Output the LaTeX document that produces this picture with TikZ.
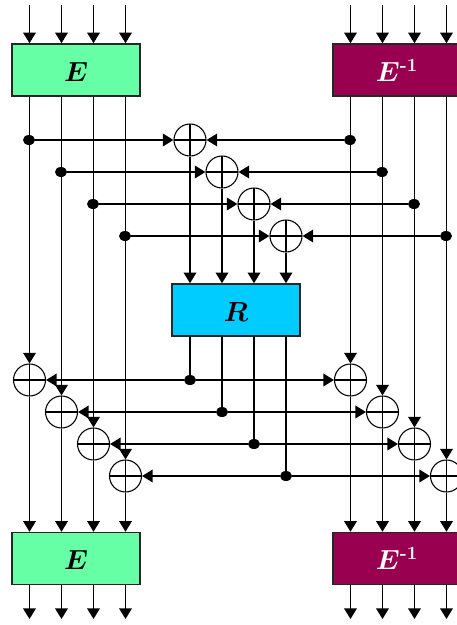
\documentclass[tikz,border=0pt]{standalone}
\usepackage{amsmath}
\usepackage{amssymb}
\usepackage{tikz}
\usetikzlibrary{arrows.meta}
\usetikzlibrary{shapes.geometric}
\definecolor{boxgreen}{RGB}{102,255,166}
\definecolor{boxwine}{RGB}{153,0,80}
\definecolor{boxcyan}{RGB}{0,204,255}
\tikzset{
  blockbox/.style={draw=black!85,line width=1.2pt,minimum width=96pt,minimum height=39pt,inner sep=0pt,text height=17pt,text depth=0pt,font=\fontsize{20}{24}\selectfont\boldmath},
  xorsum/.style={circle,draw,line width=0.8pt,minimum size=24pt,inner sep=0pt,path picture={\draw[line width=0.8pt] (path picture bounding box.north)--(path picture bounding box.south) (path picture bounding box.west)--(path picture bounding box.east);}},
  joint/.style={ellipse,fill=black,minimum width=9pt,minimum height=7.5pt,inner sep=0pt},
  wire/.style={line width=1.2pt},
  flow/.style={line width=1.2pt,-{Triangle[width=9.5pt,length=8pt]}}
}
\begin{document}
\begin{tikzpicture}[x=0.75pt,y=-0.75pt]
\clip (0,0) rectangle (457,625);
% blocks
\node[blockbox,fill=boxgreen] (etop) at (76,70) {$E$};
\node[blockbox,fill=boxwine,text=white] (itop) at (397,70) {$E^{\textbf{-1}}$};
\node[blockbox,fill=boxcyan] (rmid) at (236,310) {$R$};
\node[blockbox,fill=boxgreen] (ebot) at (76,558.5) {$E$};
\node[blockbox,fill=boxwine,text=white] (ibot) at (397,558.5) {$E^{\textbf{-1}}$};
% free ends
\coordinate (ina) at (29.5,5);
\coordinate (inb) at (61.5,5);
\coordinate (inc) at (93.5,5);
\coordinate (ind) at (125.5,5);
\coordinate (ine) at (350.5,5);
\coordinate (inf) at (382.5,5);
\coordinate (ing) at (414.5,5);
\coordinate (inh) at (446.5,5);
\coordinate (outa) at (29.5,619);
\coordinate (outb) at (61.5,619);
\coordinate (outc) at (93.5,619);
\coordinate (outd) at (125.5,619);
\coordinate (oute) at (350.5,619);
\coordinate (outf) at (382.5,619);
\coordinate (outg) at (414.5,619);
\coordinate (outh) at (446.5,619);
% upper sums and joints
\node[xorsum] (ua) at (190,140) {};
\node[xorsum] (ub) at (222,172) {};
\node[xorsum] (uc) at (254,204) {};
\node[xorsum] (ud) at (286,236) {};
\node[joint] (la) at (29,140) {};
\node[joint] (lb) at (61,172) {};
\node[joint] (lc) at (93,204) {};
\node[joint] (ld) at (125,236) {};
\node[joint] (ra) at (350,140) {};
\node[joint] (rb) at (382,172) {};
\node[joint] (rc) at (414,204) {};
\node[joint] (rd) at (446,236) {};
% lower sums and joints
\node[xorsum] (xa) at (29.5,380) {};
\node[xorsum] (xb) at (61.5,412) {};
\node[xorsum] (xc) at (93.5,444) {};
\node[xorsum] (xd) at (125.5,476) {};
\node[xorsum] (ya) at (350.5,380) {};
\node[xorsum] (yb) at (382.5,412) {};
\node[xorsum] (yc) at (414.5,444) {};
\node[xorsum] (yd) at (446.5,476) {};
\node[joint] (ma) at (190,380) {};
\node[joint] (mb) at (222,412) {};
\node[joint] (mc) at (254,444) {};
\node[joint] (md) at (286,476) {};
% inputs
\draw[flow] (ina) -- (ina |- etop.north);
\draw[flow] (inb) -- (inb |- etop.north);
\draw[flow] (inc) -- (inc |- etop.north);
\draw[flow] (ind) -- (ind |- etop.north);
\draw[flow] (ine) -- (ine |- itop.north);
\draw[flow] (inf) -- (inf |- itop.north);
\draw[flow] (ing) -- (ing |- itop.north);
\draw[flow] (inh) -- (inh |- itop.north);
% columns down to the lower sums
\draw[flow] (xa |- etop.south) -- (xa.north);
\draw[flow] (xb |- etop.south) -- (xb.north);
\draw[flow] (xc |- etop.south) -- (xc.north);
\draw[flow] (xd |- etop.south) -- (xd.north);
\draw[flow] (ya |- itop.south) -- (ya.north);
\draw[flow] (yb |- itop.south) -- (yb.north);
\draw[flow] (yc |- itop.south) -- (yc.north);
\draw[flow] (yd |- itop.south) -- (yd.north);
% columns into the bottom blocks
\draw[flow] (xa.south) -- (xa |- ebot.north);
\draw[flow] (xb.south) -- (xb |- ebot.north);
\draw[flow] (xc.south) -- (xc |- ebot.north);
\draw[flow] (xd.south) -- (xd |- ebot.north);
\draw[flow] (ya.south) -- (ya |- ibot.north);
\draw[flow] (yb.south) -- (yb |- ibot.north);
\draw[flow] (yc.south) -- (yc |- ibot.north);
\draw[flow] (yd.south) -- (yd |- ibot.north);
% outputs
\draw[flow] (outa |- ebot.south) -- (outa);
\draw[flow] (outb |- ebot.south) -- (outb);
\draw[flow] (outc |- ebot.south) -- (outc);
\draw[flow] (outd |- ebot.south) -- (outd);
\draw[flow] (oute |- ibot.south) -- (oute);
\draw[flow] (outf |- ibot.south) -- (outf);
\draw[flow] (outg |- ibot.south) -- (outg);
\draw[flow] (outh |- ibot.south) -- (outh);
% upper rows
\draw[flow] (la) -- (ua.west);
\draw[flow] (lb) -- (ub.west);
\draw[flow] (lc) -- (uc.west);
\draw[flow] (ld) -- (ud.west);
\draw[flow] (ra) -- (ua.east);
\draw[flow] (rb) -- (ub.east);
\draw[flow] (rc) -- (uc.east);
\draw[flow] (rd) -- (ud.east);
% through R
\draw[flow] (ua.south) -- (ua |- rmid.north);
\draw[flow] (ub.south) -- (ub |- rmid.north);
\draw[flow] (uc.south) -- (uc |- rmid.north);
\draw[flow] (ud.south) -- (ud |- rmid.north);
\draw[wire] (ua |- rmid.south) -- (ma);
\draw[wire] (ub |- rmid.south) -- (mb);
\draw[wire] (uc |- rmid.south) -- (mc);
\draw[wire] (ud |- rmid.south) -- (md);
% lower rows
\draw[flow] (ma) -- (xa.east);
\draw[flow] (mb) -- (xb.east);
\draw[flow] (mc) -- (xc.east);
\draw[flow] (md) -- (xd.east);
\draw[flow] (ma) -- (ya.west);
\draw[flow] (mb) -- (yb.west);
\draw[flow] (mc) -- (yc.west);
\draw[flow] (md) -- (yd.west);
\end{tikzpicture}
\end{document}
